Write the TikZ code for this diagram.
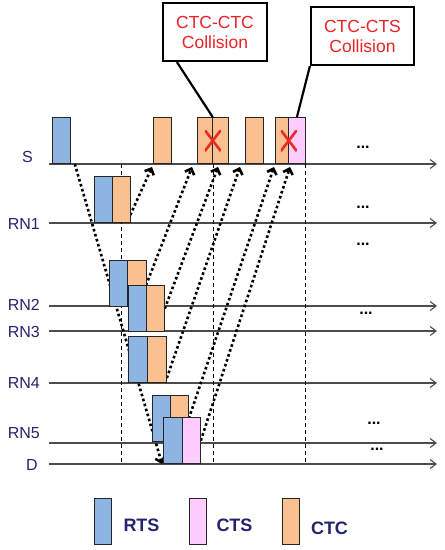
\documentclass[tikz,border=0pt]{standalone}
\usepackage{fontspec}
\setmainfont{Liberation Sans}
\usetikzlibrary{arrows.meta,backgrounds}

\definecolor{rtsblue}{RGB}{142,180,227}
\definecolor{ctspink}{RGB}{255,204,255}
\definecolor{ctcorange}{RGB}{250,192,144}
\definecolor{navy}{RGB}{35,35,110}
\definecolor{cred}{RGB}{232,35,40}

\begin{document}
\begin{tikzpicture}[x=1pt, y=-1pt]
	\tikzset{
		pkt/.style={draw=black!85, line width=0.8pt, minimum width=18pt, minimum height=46pt, inner sep=0pt, anchor=south west},
		crts/.style={pkt, fill=rtsblue},
		ccts/.style={pkt, fill=ctspink},
		cctc/.style={pkt, fill=ctcorange},
		tline/.style={draw=black!70, line width=1.1pt, -{Straight Barb[length=6pt,width=9pt]}},
		vline/.style={dashed, line width=0.8pt, dash pattern=on 4pt off 3pt},
		msg/.style={line width=2.6pt, dash pattern=on 2.6pt off 2.6pt, -{Straight Barb[length=5pt,width=10pt]}},
		rlabel/.style={text=navy, anchor=east, inner sep=0pt, font=\fontsize{16}{18}\selectfont},
		more/.style={anchor=base, inner sep=0pt, font=\fontsize{16}{16}\selectfont\bfseries},
		callout/.style={draw, line width=2.2pt, minimum width=104pt, minimum height=58pt, text=cred, align=center, font=\fontsize{17.5}{20}\selectfont},
		legtext/.style={text=navy, inner sep=0pt, font=\fontsize{18}{18}\selectfont\bfseries},
		xmark/.style={minimum width=16pt, minimum height=21pt, inner sep=0pt,
			path picture={\draw[cred!90!orange, line width=2.6pt]
				(path picture bounding box.south west) -- (path picture bounding box.north east)
				(path picture bounding box.north west) -- (path picture bounding box.south east);}}
	}
	\useasboundingbox (0,0) rectangle (445,550);

	% node labels
	\node[rlabel, anchor=center] (lS) at (27.5,157) {S};
	\node[rlabel] (lRN1) at (40,224) {RN1};
	\node[rlabel] (lRN2) at (40,305) {RN2};
	\node[rlabel] (lRN3) at (40,332) {RN3};
	\node[rlabel] (lRN4) at (40,383) {RN4};
	\node[rlabel] (lRN5) at (40,433) {RN5};
	\node[rlabel] (lD) at (38,465) {D};

	% source
	\node[crts] (sr) at (52,164) {};
	\node[cctc] (sc1) at (153,164) {};
	\node[cctc, minimum width=15pt] (sc2) at (197,164) {};
	\node[cctc, minimum width=16pt] (sc3) at (212,164) {};
	\node[cctc] (sc4) at (245,164) {};
	\node[cctc, minimum width=13pt] (sc5) at (275,164) {};
	\node[ccts, minimum width=17pt] (sp) at (288,164) {};
	\node[xmark] (x1) at (sc2.east) {};
	\node[xmark] (x2) at (sc5.east) {};

	% relays
	\node[crts, minimum width=17.5pt] (r1r) at (94,223) {};
	\node[cctc] (r1c) at (111.5,223) {};
	\node[crts] (r2r) at (109,307) {};
	\node[cctc, minimum width=19pt] (r2c) at (127,307) {};
	\node[crts] (r3r) at (128,332) {};
	\node[cctc] (r3c) at (146,332) {};
	\node[crts, minimum width=19pt] (r4r) at (128,383) {};
	\node[cctc, minimum width=19pt] (r4c) at (147,383) {};
	\node[crts] (r5r) at (152,442) {};
	\node[cctc] (r5c) at (170,442) {};
	\node[crts, minimum width=19pt] (dr) at (163,464) {};
	\node[ccts] (dp) at (182,464) {};

	% more slots
	\node[more] (m1) at (363,148.5) {...};
	\node[more] (m2) at (363,208.5) {...};
	\node[more] (m3) at (363,245.5) {...};
	\node[more] (m4) at (366,314.5) {...};
	\node[more] (m5) at (374,424.5) {...};
	\node[more] (m6) at (377,450.5) {...};

	% collision callouts
	\node[callout] (c1) at (215,32) {CTC-CTC\\Collision};
	\node[callout, minimum width=103pt] (c2) at (362.5,36) {CTC-CTS\\Collision};
	\draw[line width=2.2pt] ([xshift=15pt]c1.south west) -- (sc2.north east);
	\draw[line width=2.2pt] (c2.south west) -- (sp.north);

	% legend
	\node[crts, minimum width=17pt] (lr) at (94,545) {};
	\node[ccts, minimum width=17pt] (lp) at (189,545) {};
	\node[cctc, minimum width=17pt] (lc) at (282,545) {};
	\node[legtext] (tr) at (141.5,525) {RTS};
	\node[legtext] (tp) at (234.5,525) {CTS};
	\node[legtext] (tc) at (329.5,528) {CTC};

	\begin{scope}[on background layer]
		% time axes
		\foreach \y/\n in {164/S, 223/RN1, 306/RN2, 331/RN3, 383/RN4, 443/RN5, 464/D} {
			\coordinate (t\n a) at (49,\y);
			\coordinate (t\n b) at (437,\y);
			\draw[tline] (t\n a) -- (t\n b);
		}
		% slot boundaries
		\foreach \x in {121, 213, 305} {
			\coordinate (v\x a) at (\x,164);
			\coordinate (v\x b) at (\x,464);
			\draw[vline] (v\x a) -- (v\x b);
		}
		% RTS flooding down to D
		\draw[msg] ([xshift=4pt]sr.south east) -- ([xshift=-1pt]dr.south west);
		% CTC / CTS back to S
		\draw[msg] ([yshift=8pt]r1c.south east) -- ([xshift=-1pt,yshift=-3pt]sc1.south west);
		\draw[msg] (r3c.north west) -- ([xshift=-5pt,yshift=-3pt]sc2.south west);
		\draw[msg] (r3c.east) -- ([xshift=6pt,yshift=-3pt]sc3.south west);
		\draw[msg] ([yshift=5pt]r4c.south east) -- ([xshift=-5pt,yshift=-3pt]sc4.south west);
		\draw[msg] (r5c.east) -- ([xshift=-1pt,yshift=-3pt]sc5.south west);
		\draw[msg] (dp.east) -- ([xshift=2pt,yshift=-3pt]sp.south west);
	\end{scope}
\end{tikzpicture}
\end{document}
